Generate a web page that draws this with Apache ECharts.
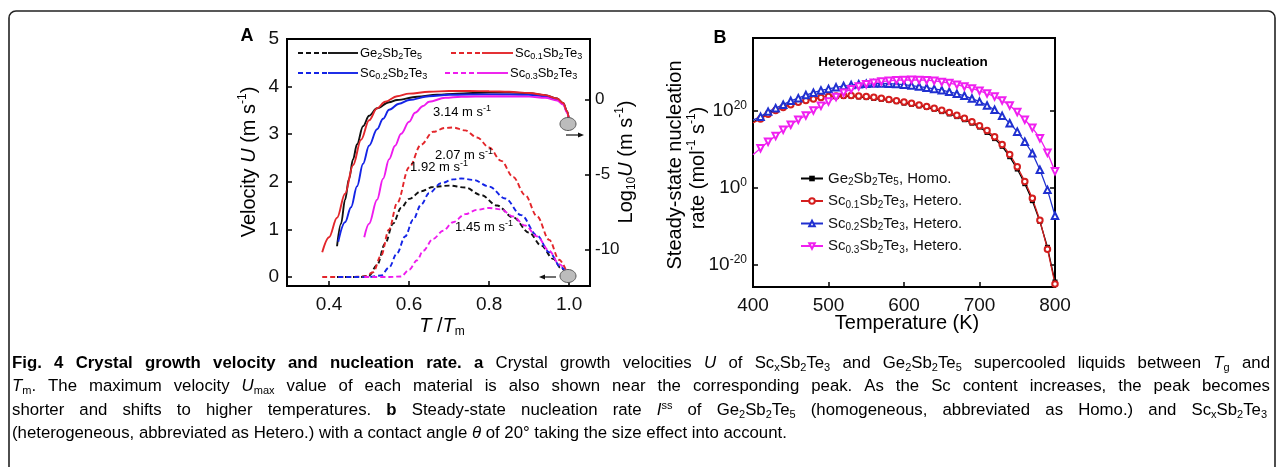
<!DOCTYPE html>
<html>
<head>
<meta charset="utf-8">
<script src="https://cdn.jsdelivr.net/npm/echarts@6/dist/echarts.min.js"></script>
<style>
  html, body { margin: 0; background: #fff; }
  #chart { width: 1282px; height: 467px; }
</style>
</head>
<body>
<div id="chart"></div>
<script>
// ---- panel A: growth velocity U (dashed, left axis) ----
const tTmGeU  = [0.42, 0.48, 0.50, 0.52, 0.54, 0.56, 0.58, 0.60, 0.63, 0.66, 0.70, 0.74, 0.78, 0.82, 0.86, 0.90, 0.93, 0.96, 0.98, 0.995];
const uGe     = [0, 0, 0.03, 0.25, 0.7, 1.12, 1.45, 1.64, 1.8, 1.89, 1.92, 1.88, 1.72, 1.5, 1.25, 0.93, 0.66, 0.38, 0.18, 0.08];
const tTmSc1U = [0.383, 0.45, 0.49, 0.51, 0.53, 0.55, 0.57, 0.60, 0.63, 0.66, 0.69, 0.71, 0.74, 0.77, 0.80, 0.83, 0.86, 0.89, 0.92, 0.95, 0.975, 0.995];
const uSc1    = [0, 0, 0.01, 0.1, 0.45, 1.0, 1.55, 2.3, 2.78, 3.05, 3.13, 3.14, 3.08, 2.93, 2.72, 2.44, 2.1, 1.72, 1.27, 0.78, 0.36, 0.08];
const tTmSc2U = [0.423, 0.50, 0.53, 0.55, 0.57, 0.59, 0.61, 0.63, 0.65, 0.68, 0.71, 0.73, 0.76, 0.80, 0.84, 0.88, 0.92, 0.95, 0.98, 0.995];
const uSc2    = [0, 0, 0.03, 0.2, 0.5, 0.85, 1.2, 1.52, 1.76, 1.97, 2.05, 2.07, 2.04, 1.9, 1.65, 1.3, 0.87, 0.52, 0.2, 0.08];
const tTmSc3U = [0.488, 0.55, 0.58, 0.60, 0.62, 0.635, 0.66, 0.685, 0.71, 0.74, 0.77, 0.80, 0.83, 0.86, 0.89, 0.92, 0.95, 0.975, 0.995];
const uSc3    = [0, 0, 0.01, 0.15, 0.35, 0.55, 0.8, 0.97, 1.15, 1.32, 1.41, 1.45, 1.42, 1.27, 1.08, 0.85, 0.55, 0.27, 0.08];

// ---- panel A: log10 U (solid, right axis) ----
const tTmGeLog  = [0.42, 0.43, 0.44, 0.45, 0.46, 0.47, 0.485, 0.50, 0.52, 0.55, 0.57, 0.62, 0.67, 0.72, 0.80, 0.85, 0.90, 0.94, 0.97, 0.985, 0.995, 1.0];
const logUGe    = [-9.8, -8.3, -6.7, -5.3, -4.0, -3.0, -1.8, -1.1, -0.6, -0.2, -0.05, 0.17, 0.3, 0.38, 0.45, 0.45, 0.4, 0.27, 0.05, -0.25, -0.8, -1.5];
const tTmSc1Log = [0.383, 0.40, 0.42, 0.44, 0.46, 0.48, 0.50, 0.52, 0.54, 0.57, 0.60, 0.65, 0.70, 0.75, 0.80, 0.85, 0.90, 0.94, 0.97, 0.985, 0.995, 1.0];
const logUSc1   = [-10.2, -9.2, -7.9, -6.3, -4.4, -2.7, -1.4, -0.6, -0.16, 0.2, 0.38, 0.5, 0.55, 0.55, 0.54, 0.5, 0.42, 0.28, 0.05, -0.25, -0.8, -1.5];
const tTmSc2Log = [0.423, 0.44, 0.455, 0.47, 0.485, 0.50, 0.52, 0.535, 0.55, 0.575, 0.60, 0.65, 0.70, 0.80, 0.90, 0.94, 0.97, 0.985, 0.995, 1.0];
const logUSc2   = [-9.5, -8.2, -7.2, -5.8, -4.3, -3.1, -2.0, -1.3, -0.7, -0.3, -0.05, 0.2, 0.3, 0.33, 0.3, 0.2, 0.0, -0.3, -0.85, -1.5];
const tTmSc3Log = [0.488, 0.50, 0.52, 0.535, 0.55, 0.565, 0.58, 0.60, 0.615, 0.635, 0.65, 0.69, 0.73, 0.80, 0.90, 0.94, 0.97, 0.985, 0.995, 1.0];
const logUSc3   = [-9.2, -8.3, -6.7, -5.3, -4.0, -3.1, -2.3, -1.5, -0.9, -0.45, -0.16, 0.1, 0.17, 0.2, 0.18, 0.1, -0.08, -0.35, -0.9, -1.5];

// ---- panel B: steady-state nucleation rate, log10 values ----
const temps = [400, 410, 420, 430, 440, 450, 460, 470, 480, 490, 500, 510, 520, 530, 540, 550, 560, 570, 580, 590,
               600, 610, 620, 630, 640, 650, 660, 670, 680, 690, 700, 710, 720, 730, 740, 750, 760, 770, 780, 790, 800];
const rateGe  = [17.0, 18.0, 19.3, 20.2, 20.9, 21.6, 22.1, 22.6, 23.0, 23.3, 23.5, 23.6, 23.65, 23.65, 23.5, 23.35, 23.1, 22.9, 22.6, 22.3,
                 21.9, 21.6, 21.2, 20.8, 20.3, 19.7, 19.1, 18.4, 17.6, 16.7, 15.7, 14.3, 12.7, 10.7, 8.0, 4.8, 1.0, -3.4, -8.8, -15.5, -24.5];
const rateSc1 = [16.8, 17.8, 19.0, 20.0, 20.8, 21.5, 22.1, 22.6, 23.0, 23.35, 23.6, 23.75, 23.85, 23.85, 23.75, 23.6, 23.4, 23.15, 22.85, 22.55,
                 22.2, 21.85, 21.45, 21.05, 20.6, 20.05, 19.45, 18.75, 17.95, 17.05, 16.05, 14.8, 13.2, 11.2, 8.6, 5.4, 1.6, -2.8, -8.5, -16.0, -25.0];
const rateSc2 = [17.5, 18.4, 19.7, 20.6, 21.5, 22.5, 23.2, 24.0, 24.6, 25.2, 25.6, 26.0, 26.35, 26.6, 26.8, 26.95, 27.0, 27.0, 26.95, 26.85,
                 26.7, 26.45, 26.2, 25.9, 25.6, 25.25, 24.85, 24.35, 23.8, 23.1, 22.3, 21.3, 20.2, 18.6, 16.7, 14.5, 11.9, 8.9, 4.6, -0.6, -7.3];
const rateSc3 = [8.5, 10.2, 11.9, 13.4, 15.0, 16.3, 17.6, 18.7, 20.0, 21.2, 22.3, 23.5, 24.6, 25.5, 26.2, 26.8, 27.2, 27.5, 27.7, 27.85,
                 27.9, 27.95, 27.9, 27.85, 27.7, 27.4, 27.1, 26.7, 26.2, 25.7, 25.1, 24.4, 23.6, 22.6, 21.3, 19.6, 17.6, 15.5, 12.8, 9.0, 4.2];

// tick values
const ticksTTm  = [0.4, 0.6, 0.8, 1.0];
const ticksU    = [0, 1, 2, 3, 4, 5];
const ticksLogU = [-10, -5, 0];
const ticksRate = [-20, 0, 20];

const FONT = '"Liberation Sans", Arial, sans-serif';
const colA = { ge: '#111111', sc1: '#e3262b', sc2: '#1424e6', sc3: '#ee1bee' };
const colB = { ge: '#000000', sc1: '#d41e1e', sc2: '#2030d0', sc3: '#f020f0' };

function pairs(xs, ys) { return xs.map((x, i) => [x, ys[i]]); }

function curveA(xs, ys, color, dashed) {
  return {
    type: 'line', xAxisIndex: 0, yAxisIndex: dashed ? 0 : 1,
    data: pairs(xs, ys), symbol: 'none', smooth: 0.35, smoothMonotone: 'x',
    lineStyle: { color: color, width: 1.9, type: dashed ? [5, 3] : 'solid' },
    z: dashed ? 2 : 3
  };
}

function curveB(name, vals, color, symbol, size, rotate) {
  return {
    name: name, type: 'line', xAxisIndex: 1, yAxisIndex: 2,
    data: temps.map((t, i) => i === 0 ? { value: [t, vals[i]], symbol: 'none' } : [t, vals[i]]),
    symbol: symbol, symbolSize: size, symbolRotate: rotate || 0,
    showAllSymbol: true,
    itemStyle: { color: color, borderWidth: 1.1 },
    lineStyle: { color: color, width: 1.3 }
  };
}

const legendRich = {
  n: { fontSize: 15, lineHeight: 18, fontFamily: FONT, color: '#111' },
  s: { fontSize: 10, lineHeight: 10, verticalAlign: 'bottom', fontFamily: FONT, color: '#111' }
};
const legendNames = {
  'Ge2Sb2Te5, Homo.': '{n|Ge}{s|2}{n|Sb}{s|2}{n|Te}{s|5}{n|, Homo.}',
  'Sc0.1Sb2Te3, Hetero.': '{n|Sc}{s|0.1}{n|Sb}{s|2}{n|Te}{s|3}{n|, Hetero.}',
  'Sc0.2Sb2Te3, Hetero.': '{n|Sc}{s|0.2}{n|Sb}{s|2}{n|Te}{s|3}{n|, Hetero.}',
  'Sc0.3Sb2Te3, Hetero.': '{n|Sc}{s|0.3}{n|Sb}{s|2}{n|Te}{s|3}{n|, Hetero.}'
};

// rich styles for free texts
const titleRich = {
  n: { fontSize: 20, lineHeight: 24, fontFamily: FONT, color: '#111' },
  i: { fontSize: 20, lineHeight: 24, fontFamily: FONT, fontStyle: 'italic', color: '#111' },
  p: { fontSize: 12, lineHeight: 12, verticalAlign: 'top', fontFamily: FONT, color: '#111' },
  s: { fontSize: 12, lineHeight: 12, verticalAlign: 'bottom', fontFamily: FONT, color: '#111' }
};
const smallRich = {
  n: { fontSize: 13, lineHeight: 16, fontFamily: FONT, color: '#111' },
  s: { fontSize: 9, lineHeight: 9, verticalAlign: 'bottom', fontFamily: FONT, color: '#111' }
};
function annoRich(color) {
  return {
    n: { fontSize: 13, lineHeight: 16, fontFamily: FONT, color: color },
    p: { fontSize: 9, lineHeight: 9, verticalAlign: 'top', fontFamily: FONT, color: color }
  };
}

// caption: rich text, justified lines get a stretched space token
const CAP = 16.8, CAPS = 11;
const capStyle = {
  r: { fontSize: CAP, lineHeight: 20, fontFamily: FONT, color: '#222' },
  b: { fontSize: CAP, lineHeight: 20, fontFamily: FONT, fontWeight: 'bold', color: '#111' },
  i: { fontSize: CAP, lineHeight: 20, fontFamily: FONT, fontStyle: 'italic', color: '#222' },
  s: { fontSize: CAPS, lineHeight: CAPS, verticalAlign: 'bottom', fontFamily: FONT, color: '#222' },
  p: { fontSize: CAPS, lineHeight: CAPS, verticalAlign: 'top', fontFamily: FONT, color: '#222' }
};
const mctx = document.createElement('canvas').getContext('2d');
function measure(st, text) {
  const s = capStyle[st];
  mctx.font = (s.fontStyle || 'normal') + ' ' + (s.fontWeight || 'normal') + ' ' + s.fontSize + 'px ' + FONT;
  return mctx.measureText(text).width;
}
function captionLine(x, y, segs, target) {
  let natural = 0, spaces = 0;
  segs.forEach(([st, t]) => {
    natural += measure(st, t);
    spaces += (t.match(/ /g) || []).length;
  });
  const spaceW = measure('r', ' ');
  const extra = target ? Math.max(0, (target - natural) / spaces) : 0;
  const rich = Object.assign({}, capStyle, { w: { fontSize: CAP, lineHeight: 20, fontFamily: FONT, width: spaceW + extra } });
  let str = '';
  segs.forEach(([st, t]) => {
    t.split(' ').forEach((piece, k) => {
      if (k > 0) str += '{w| }';
      if (piece) str += '{' + st + '|' + piece + '}';
    });
  });
  return {
    type: 'text', x: x, y: y, z: 10,
    style: { text: str, rich: rich, align: 'left', verticalAlign: 'middle' }
  };
}

function txt(x, y, text, rich, opts) {
  opts = opts || {};
  return {
    type: 'text', x: x, y: y, rotation: opts.rot || 0, z: 10,
    style: { text: text, rich: rich, align: opts.align || 'center', verticalAlign: 'middle' }
  };
}
function seg(x1, x2, y, color, dashed) {
  return {
    type: 'line', z: 10, shape: { x1: x1, y1: y, x2: x2, y2: y },
    style: { stroke: color, lineWidth: 1.9, lineDash: dashed ? [5, 3] : null }
  };
}

const axisLineStyle = { color: '#000', width: 2 };

const option = {
  animation: false,
  backgroundColor: '#fff',
  grid: [
    { left: 287, top: 39, width: 303, height: 247, show: true, borderColor: '#000', borderWidth: 2 },
    { left: 753, top: 38, width: 302, height: 249, show: true, borderColor: '#000', borderWidth: 2 }
  ],
  xAxis: [
    {
      gridIndex: 0, type: 'value', min: 0.295, max: 1.052,
      axisLine: { onZero: false, lineStyle: axisLineStyle },
      axisTick: { inside: true, length: 5, customValues: ticksTTm, lineStyle: { color: '#000', width: 1.5 } },
      axisLabel: { customValues: ticksTTm, formatter: v => v.toFixed(1), fontSize: 19, color: '#111', fontFamily: FONT, margin: 9 },
      splitLine: { show: false }
    },
    {
      gridIndex: 1, type: 'value', min: 400, max: 800, interval: 100,
      axisLine: { onZero: false, lineStyle: axisLineStyle },
      axisTick: { inside: true, length: 5, lineStyle: { color: '#000', width: 1.5 } },
      axisLabel: { fontSize: 19, color: '#111', fontFamily: FONT, margin: 9, showMinLabel: true, showMaxLabel: true },
      splitLine: { show: false }
    }
  ],
  yAxis: [
    {
      gridIndex: 0, type: 'value', min: -0.19, max: 5,
      axisLine: { show: true, onZero: false, lineStyle: axisLineStyle },
      axisTick: { show: true, inside: true, length: 5, customValues: ticksU, lineStyle: { color: '#000', width: 1.5 } },
      axisLabel: { customValues: ticksU, fontSize: 19, color: '#111', fontFamily: FONT, margin: 8 },
      splitLine: { show: false }
    },
    {
      gridIndex: 0, type: 'value', position: 'right', min: -12.45, max: 4.02,
      axisLine: { show: true, onZero: false, lineStyle: axisLineStyle },
      axisTick: { show: true, inside: true, length: 5, customValues: ticksLogU, lineStyle: { color: '#000', width: 1.5 } },
      axisLabel: { customValues: ticksLogU, fontSize: 17, color: '#111', fontFamily: FONT, margin: 5 },
      splitLine: { show: false }
    },
    {
      gridIndex: 1, type: 'value', min: -25.8, max: 38.8,
      axisLine: { show: true, onZero: false, lineStyle: axisLineStyle },
      axisTick: { show: true, inside: true, length: 5, customValues: ticksRate, lineStyle: { color: '#000', width: 1.5 } },
      axisLabel: {
        customValues: ticksRate, margin: 6,
        formatter: v => '{b|10}{t|' + v + '}',
        rich: {
          b: { fontSize: 19, lineHeight: 22, fontFamily: FONT, color: '#111' },
          t: { fontSize: 12, lineHeight: 12, verticalAlign: 'top', fontFamily: FONT, color: '#111' }
        }
      },
      splitLine: { show: false }
    },
    {
      gridIndex: 1, type: 'value', position: 'right', min: -25.8, max: 38.8,
      axisLine: { show: true, onZero: false, lineStyle: axisLineStyle },
      axisTick: { show: true, inside: true, length: 5, customValues: ticksRate, lineStyle: { color: '#000', width: 1.5 } },
      axisLabel: { show: false },
      splitLine: { show: false }
    }
  ],
  legend: {
    data: Object.keys(legendNames),
    orient: 'vertical', left: 795, top: 166,
    itemWidth: 22, itemHeight: 7, itemGap: 6,
    formatter: name => legendNames[name],
    textStyle: { rich: legendRich }
  },
  series: [
    curveA(tTmGeU, uGe, colA.ge, true),
    curveA(tTmSc1U, uSc1, colA.sc1, true),
    curveA(tTmSc2U, uSc2, colA.sc2, true),
    curveA(tTmSc3U, uSc3, colA.sc3, true),
    curveA(tTmGeLog, logUGe, colA.ge, false),
    curveA(tTmSc2Log, logUSc2, colA.sc2, false),
    curveA(tTmSc3Log, logUSc3, colA.sc3, false),
    curveA(tTmSc1Log, logUSc1, colA.sc1, false),
    curveB('Ge2Sb2Te5, Homo.', rateGe, colB.ge, 'rect', 5),
    curveB('Sc0.1Sb2Te3, Hetero.', rateSc1, colB.sc1, 'emptyCircle', 5.5),
    curveB('Sc0.2Sb2Te3, Hetero.', rateSc2, colB.sc2, 'emptyTriangle', 6.5),
    curveB('Sc0.3Sb2Te3, Hetero.', rateSc3, colB.sc3, 'emptyTriangle', 6.5, 180)
  ],
  graphic: [
    // outer frame of the figure
    { type: 'rect', shape: { x: 9, y: 11, width: 1266, height: 480, r: 7 }, style: { fill: 'none', stroke: '#222', lineWidth: 1.6 }, z: 0 },
    // panel letters
    { type: 'text', x: 247, y: 36, style: { text: 'A', font: 'bold 18px ' + FONT, fill: '#000', align: 'center', verticalAlign: 'middle' } },
    { type: 'text', x: 720, y: 38, style: { text: 'B', font: 'bold 18px ' + FONT, fill: '#000', align: 'center', verticalAlign: 'middle' } },
    // axis titles panel A
    txt(442, 326, '{i|T}{n| /}{i|T}{s|m}', titleRich),
    txt(249, 162, '{n|Velocity }{i|U}{n| (m s}{p|-1}{n|)}', titleRich, { rot: Math.PI / 2 }),
    txt(626, 162, '{n|Log}{s|10}{i|U}{n| (m s}{p|-1}{n|)}', titleRich, { rot: Math.PI / 2 }),
    // axis titles panel B
    txt(907, 323, '{n|Temperature (K)}', titleRich),
    txt(675, 165, '{n|Steady-state nucleation}', titleRich, { rot: Math.PI / 2 }),
    txt(698, 168, '{n|rate (mol}{p|-1}{n| s}{p|-1}{n|)}', titleRich, { rot: Math.PI / 2 }),
    { type: 'text', x: 903, y: 62, style: { text: 'Heterogeneous nucleation', font: 'bold 13.5px ' + FONT, fill: '#000', align: 'center', verticalAlign: 'middle' } },
    // legend panel A: dashed + solid sample then label
    seg(298, 328, 53, colA.ge, true), seg(328, 358, 53, colA.ge, false),
    txt(360, 53, '{n|Ge}{s|2}{n|Sb}{s|2}{n|Te}{s|5}', smallRich, { align: 'left' }),
    seg(451, 482, 53, colA.sc1, true), seg(482, 513, 53, colA.sc1, false),
    txt(515, 53, '{n|Sc}{s|0.1}{n|Sb}{s|2}{n|Te}{s|3}', smallRich, { align: 'left' }),
    seg(298, 328, 73, colA.sc2, true), seg(328, 358, 73, colA.sc2, false),
    txt(360, 73, '{n|Sc}{s|0.2}{n|Sb}{s|2}{n|Te}{s|3}', smallRich, { align: 'left' }),
    seg(445, 477, 73, colA.sc3, true), seg(477, 508, 73, colA.sc3, false),
    txt(510, 73, '{n|Sc}{s|0.3}{n|Sb}{s|2}{n|Te}{s|3}', smallRich, { align: 'left' }),
    // peak velocity annotations
    txt(462, 112, '{n|3.14 m s}{p|-1}', annoRich(colA.sc1)),
    txt(464, 155, '{n|2.07 m s}{p|-1}', annoRich(colA.sc2)),
    txt(439, 167, '{n|1.92 m s}{p|-1}', annoRich(colA.ge)),
    txt(484, 227, '{n|1.45 m s}{p|-1}', annoRich(colA.sc3)),
    // axis indicators: ellipses and arrows
    { type: 'ellipse', z: 11, shape: { cx: 568, cy: 124, rx: 8, ry: 6.5 }, style: { fill: '#bcbcbc', stroke: '#555', lineWidth: 1 } },
    { type: 'ellipse', z: 11, shape: { cx: 568, cy: 276, rx: 8, ry: 6.5 }, style: { fill: '#bcbcbc', stroke: '#555', lineWidth: 1 } },
    { type: 'line', z: 11, shape: { x1: 566, y1: 135, x2: 580, y2: 135 }, style: { stroke: '#111', lineWidth: 1.2 } },
    { type: 'polygon', z: 11, shape: { points: [[584, 135], [578, 132.5], [578, 137.5]] }, style: { fill: '#111' } },
    { type: 'line', z: 11, shape: { x1: 556, y1: 277, x2: 543, y2: 277 }, style: { stroke: '#111', lineWidth: 1.2 } },
    { type: 'polygon', z: 11, shape: { points: [[539, 277], [545, 274.5], [545, 279.5]] }, style: { fill: '#111' } },
    // caption
    captionLine(12, 363, [['b', 'Fig. 4 Crystal growth velocity and nucleation rate. a'], ['r', ' Crystal growth velocities '], ['i', 'U'],
      ['r', ' of Sc'], ['s', 'x'], ['r', 'Sb'], ['s', '2'], ['r', 'Te'], ['s', '3'], ['r', ' and Ge'], ['s', '2'], ['r', 'Sb'], ['s', '2'],
      ['r', 'Te'], ['s', '5'], ['r', ' supercooled liquids between '], ['i', 'T'], ['s', 'g'], ['r', ' and']], 1258),
    captionLine(12, 386, [['i', 'T'], ['s', 'm'], ['r', '. The maximum velocity '], ['i', 'U'], ['s', 'max'],
      ['r', ' value of each material is also shown near the corresponding peak. As the Sc content increases, the peak becomes']], 1258),
    captionLine(12, 410, [['r', 'shorter and shifts to higher temperatures. '], ['b', 'b'], ['r', ' Steady-state nucleation rate '], ['i', 'I'], ['p', 'ss'],
      ['r', ' of Ge'], ['s', '2'], ['r', 'Sb'], ['s', '2'], ['r', 'Te'], ['s', '5'], ['r', ' (homogeneous, abbreviated as Homo.) and Sc'],
      ['s', 'x'], ['r', 'Sb'], ['s', '2'], ['r', 'Te'], ['s', '3']], 1255),
    captionLine(12, 433, [['r', '(heterogeneous, abbreviated as Hetero.) with a contact angle '], ['i', 'θ'],
      ['r', ' of 20° taking the size effect into account.']], 0)
  ]
};

const chart = echarts.init(document.getElementById('chart'), null, { renderer: 'canvas' });
chart.setOption(option);
</script>
</body>
</html>
